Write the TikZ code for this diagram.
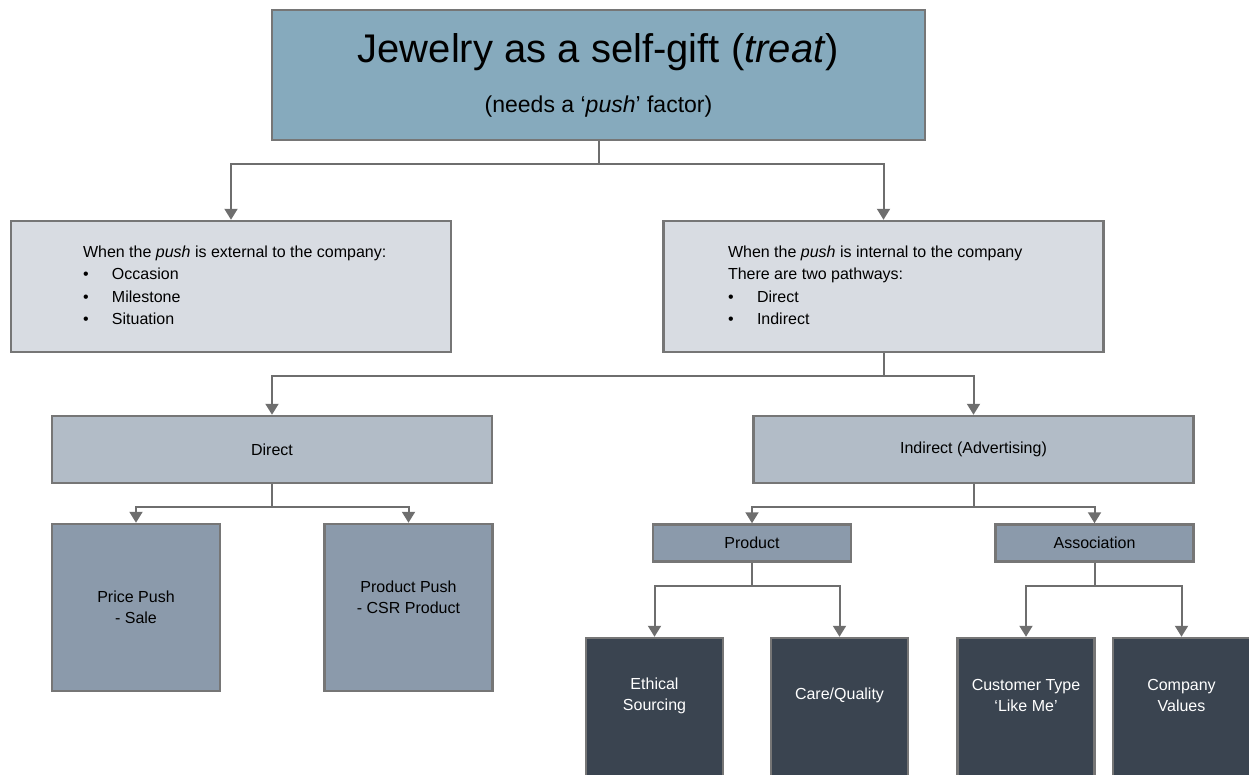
\documentclass[tikz,border=0pt]{standalone}
\usepackage{fontspec}
\setmainfont{Liberation Sans}
\usetikzlibrary{positioning,arrows.meta}

\definecolor{linegray}{RGB}{110,110,110}
\definecolor{boxgray}{RGB}{118,118,118}
\definecolor{topblue}{RGB}{134,170,189}
\definecolor{palegray}{RGB}{216,220,226}
\definecolor{midgray}{RGB}{178,188,199}
\definecolor{slategray}{RGB}{139,154,171}
\definecolor{darkslate}{RGB}{58,68,80}

\newcommand{\bul}{\makebox[29pt][l]{\textbullet}}
\newcommand{\listtext}[2]{\makebox[#1][l]{\begin{tabular}{@{}l@{}}#2\end{tabular}}}

\begin{document}
\begin{tikzpicture}[x=1pt,y=-1pt,on grid,
		box/.style={draw=boxgray,line width=2.5pt,inner sep=0pt,align=center,font=\fontsize{16}{21}\selectfont},
		topbox/.style={box,fill=topblue,minimum width=653pt,minimum height=130pt},
		palebox/.style={box,fill=palegray,minimum width=440pt,minimum height=131pt,font=\fontsize{16}{22.5}\selectfont},
		midbox/.style={box,fill=midgray,minimum width=440pt,minimum height=67pt},
		slatebox/.style={box,fill=slategray,minimum width=168pt,minimum height=167pt},
		slatebar/.style={box,fill=slategray,minimum width=198pt,minimum height=37pt},
		darkbox/.style={box,fill=darkslate,minimum width=137pt,minimum height=170pt},
		darktext/.style={text=white,align=center,font=\fontsize{16}{21}\selectfont},
		link/.style={draw=linegray,line width=2pt,-{Triangle[width=13pt,length=11pt]}}]
	\useasboundingbox (0,0) rectangle (1249,774);
	\clip (0,0) rectangle (1249,774);
	
	\node[topbox]   (top)      at (598.5,75) {{\fontsize{40}{46}\selectfont Jewelry as a self-gift (\textit{treat})}\\[24pt]
		{\fontsize{23}{26}\selectfont (needs a ‘\textit{push}’ factor)}};
	\node[palebox]  (ext)      [below left=211.5pt and 367.5pt of top] {\listtext{296pt}{When the \textit{push} is external to the company:\\
			\bul Occasion\\ \bul Milestone\\ \bul Situation}};
	\node[palebox]  (int)      [below right=211.5pt and 285pt of top] {\listtext{311pt}{When the \textit{push} is internal to the company\\
			There are two pathways:\\ \bul Direct\\ \bul Indirect}};
	
	\node[midbox]   (direct)   [below left=163pt and 611.5pt of int] {Direct};
	\node[midbox]   (indirect) [below right=163pt and 90pt of int] {Indirect (Advertising)};
	
	\node[slatebox] (price)    [below left=158pt and 136pt of direct] {Price Push\\- Sale};
	\node[slatebox] (prodpush) [below right=158pt and 136.5pt of direct] {Product Push\\- CSR Product\\\mbox{}};
	\node[slatebar] (product)  [below left=93.5pt and 221.5pt of indirect] {Product};
	\node[slatebar] (assoc)    [below right=93.5pt and 121pt of indirect] {Association};
	
	\node[darkbox]  (eth)      [below left=180pt and 97.5pt of product] {};
	\node[darkbox]  (care)     [below right=180pt and 87.5pt of product] {};
	\node[darkbox]  (cust)     [below left=180pt and 68.5pt of assoc] {};
	\node[darkbox]  (comp)     [below right=180pt and 87pt of assoc] {};
	\node[darktext] (ethtext)  at ([yshift=-59pt]eth.north)  {Ethical\\Sourcing};
	\node[darktext] (caretext) at ([yshift=-59pt]care.north) {Care/Quality};
	\node[darktext] (custtext) at ([yshift=-59pt]cust.north) {Customer Type\\‘Like Me’};
	\node[darktext] (comptext) at ([yshift=-59pt]comp.north) {Company\\Values};
	
	% elbow connectors, parent to child
	\foreach \a/\b in {top/ext,top/int,int/direct,int/indirect,direct/price,direct/prodpush,
		indirect/product,indirect/assoc,product/eth,product/care,assoc/cust,assoc/comp}
	\draw[link] (\a.south) -- ++(0,23) -| (\b.north);
\end{tikzpicture}
\end{document}
